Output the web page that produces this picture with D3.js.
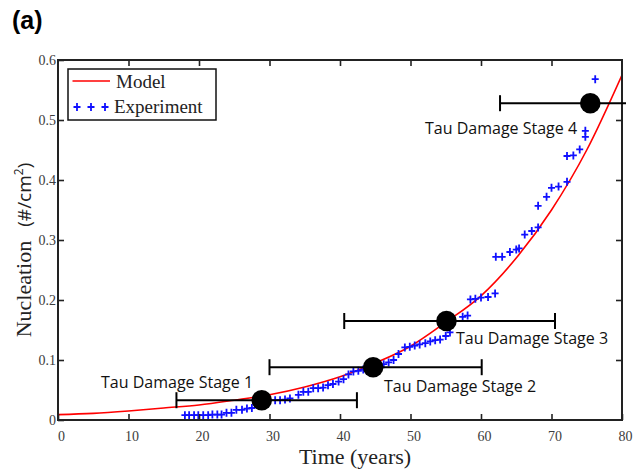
<!DOCTYPE html>
<html>
<head>
<meta charset="utf-8">
<script src="https://cdn.jsdelivr.net/npm/d3@7"></script>
<style>
  html, body { margin: 0; padding: 0; background: #fff; }
  svg { display: block; }
</style>
</head>
<body>
<svg id="chart" width="636" height="474"></svg>
<script>
// ---------------- data ----------------
const xTicks = [0, 10, 20, 30, 40, 50, 60, 70, 80];
const yTicks = [0, 0.1, 0.2, 0.3, 0.4, 0.5, 0.6];
const yTickLabels = ["0", "0.1", "0.2", "0.3", "0.4", "0.5", "0.6"];

// Model curve
const modelT = [0, 5, 10, 15, 20, 25, 30, 35, 40, 45, 50, 55, 60, 65, 70, 75, 80];
const modelV = [0.009, 0.011, 0.015, 0.020, 0.025, 0.033, 0.042, 0.055, 0.072, 0.095, 0.123, 0.163, 0.207, 0.270, 0.350, 0.450, 0.575];

// Experiment points
const expT = [18.0, 18.6, 19.3, 19.9, 20.6, 21.3, 21.9, 22.6, 23.2, 23.9, 24.6, 25.3, 26.1, 26.8, 27.5,
  28.2, 29.0, 30.8, 31.5, 32.2, 32.9, 34.1, 34.8, 35.5, 36.2, 36.9, 37.6, 38.3, 39.0, 39.8,
  40.5, 41.2, 41.9, 42.6, 43.3, 44.0, 45.5, 46.2, 46.9, 47.6, 48.3, 49.2, 49.9, 50.6, 51.3,
  52.1, 52.8, 53.5, 54.2, 55.0, 55.6, 57.4, 58.1, 58.5, 59.2, 60.0, 61.0, 62.0, 62.1, 63.0,
  64.1, 65.0, 65.4, 66.2, 67.2, 68.1, 68.1, 69.3, 70.0, 71.0, 72.2, 72.2, 73.1, 74.0, 74.8,
  74.8, 76.2];
const expV = [0.008, 0.008, 0.008, 0.008, 0.008, 0.008, 0.009, 0.009, 0.009, 0.012, 0.012, 0.017, 0.017, 0.019, 0.020,
  0.025, 0.028, 0.033, 0.033, 0.034, 0.036, 0.042, 0.047, 0.047, 0.053, 0.053, 0.054, 0.058, 0.060, 0.064,
  0.068, 0.076, 0.081, 0.082, 0.084, 0.087, 0.090, 0.093, 0.096, 0.100, 0.110, 0.121, 0.122, 0.124, 0.126,
  0.128, 0.131, 0.133, 0.134, 0.140, 0.146, 0.172, 0.174, 0.201, 0.202, 0.204, 0.205, 0.211, 0.272, 0.272,
  0.280, 0.284, 0.286, 0.309, 0.315, 0.321, 0.357, 0.372, 0.387, 0.389, 0.397, 0.440, 0.441, 0.451, 0.472,
  0.482, 0.568];

// Tau damage stages
const stageNames = ["Tau Damage Stage 1", "Tau Damage Stage 2", "Tau Damage Stage 3", "Tau Damage Stage 4"];
const stageT  = [28.9, 44.7, 55.1, 75.5];
const stageV  = [0.033, 0.088, 0.165, 0.528];
const stageLo = [16.8, 30.0, 40.6, 62.7];
const stageHi = [42.4, 60.1, 70.5, 80.6];

const legendLabels = ["Model", "Experiment"];

// ---------------- layout ----------------
const W = 636, H = 474;
const L = 58, R = 622, T = 60, B = 420;
const serif = "'Liberation Serif', 'Times New Roman', serif";
const sans = "'Open Sans', 'Noto Sans', sans-serif";

const svg = d3.select("#chart");
const x = d3.scaleLinear().domain([0, 80]).range([L, R]);
const y = d3.scaleLinear().domain([0, 0.6]).range([B, T]);

// title "(a)"
svg.append("text").attr("x", 12).attr("y", 29)
  .attr("font-family", "'Liberation Sans', Arial, sans-serif")
  .attr("font-weight", "bold").attr("font-size", 25).attr("fill", "#000").text("(a)");

// clip
svg.append("clipPath").attr("id", "plotclip").append("rect")
  .attr("x", L).attr("y", T - 20).attr("width", R - L).attr("height", B - T + 20);

// Model line
const modelData = modelT.map((t, i) => [t, modelV[i]]);
svg.append("path")
  .datum(modelData)
  .attr("clip-path", "url(#plotclip)")
  .attr("fill", "none").attr("stroke", "#ff0000").attr("stroke-width", 1.6)
  .attr("d", d3.line().x(d => x(d[0])).y(d => y(d[1])).curve(d3.curveMonotoneX));

// Experiment pluses
const plus = "M-3.5,0H3.5M0,-4V4";
svg.append("g").selectAll("path")
  .data(expT.map((t, i) => [t, expV[i]]))
  .join("path")
  .attr("transform", d => `translate(${x(d[0])},${y(d[1])})`)
  .attr("d", plus).attr("stroke", "#1010ff").attr("stroke-width", 1.8).attr("fill", "none");

// Axes
const fmtY = (d) => yTickLabels[yTicks.indexOf(d)];
const gB = svg.append("g").attr("transform", `translate(0,${B})`)
  .call(d3.axisBottom(x).tickValues(xTicks).tickSizeInner(-6).tickSizeOuter(0).tickPadding(11).tickFormat(d3.format("d")));
const gTop = svg.append("g").attr("transform", `translate(0,${T})`)
  .call(d3.axisTop(x).tickValues(xTicks.slice(1, -1)).tickSizeInner(-6).tickSizeOuter(0).tickFormat(""));
const gL = svg.append("g").attr("transform", `translate(${L},0)`)
  .call(d3.axisLeft(y).tickValues(yTicks).tickSizeInner(-6).tickSizeOuter(0).tickPadding(2).tickFormat(fmtY));
const gR = svg.append("g").attr("transform", `translate(${R},0)`)
  .call(d3.axisRight(y).tickValues(yTicks.slice(1, -1)).tickSizeInner(-6).tickSizeOuter(0).tickFormat(""));
[gB, gTop, gL, gR].forEach(g => {
  g.select(".domain").remove();
  g.selectAll(".tick line").attr("stroke", "#222").attr("stroke-width", 1.6);
  g.selectAll(".tick text").attr("font-family", serif).attr("font-size", 14).attr("fill", "#3c3c3c");
});
gB.selectAll(".tick text").attr("dx", 3);
gL.selectAll(".tick text").attr("dy", "0.3em");

// frame
svg.append("rect").attr("x", L).attr("y", T).attr("width", R - L).attr("height", B - T)
  .attr("fill", "none").attr("stroke", "#222").attr("stroke-width", 2);

// Stage error bars
const capH = 8;
const sg = svg.append("g");
stageT.forEach((t, i) => {
  const yy = y(stageV[i]);
  const x1 = x(stageLo[i]), x2 = x(stageHi[i]);
  sg.append("line").attr("x1", x1).attr("x2", Math.min(x2, R + 4)).attr("y1", yy).attr("y2", yy)
    .attr("stroke", "#000").attr("stroke-width", 2);
  [stageLo[i], stageHi[i]].forEach(v => {
    if (v <= 80) sg.append("line").attr("x1", x(v)).attr("x2", x(v)).attr("y1", yy - capH).attr("y2", yy + capH)
      .attr("stroke", "#000").attr("stroke-width", 2);
  });
  sg.append("circle").attr("cx", x(t)).attr("cy", yy).attr("r", 10.3).attr("fill", "#000");
});

// Stage labels (layout positions)
const stageLabelPos = [[101, 388], [384, 392], [456, 344], [425, 134]];
stageNames.forEach((s, i) => {
  svg.append("text").attr("x", stageLabelPos[i][0]).attr("y", stageLabelPos[i][1])
    .attr("font-family", sans).attr("font-size", 16).attr("fill", "#111").text(s);
});

// Legend
svg.append("rect").attr("x", 68).attr("y", 69).attr("width", 148).attr("height", 51)
  .attr("fill", "#fff").attr("stroke", "#111").attr("stroke-width", 1.5);
svg.append("line").attr("x1", 72.5).attr("x2", 110).attr("y1", 81).attr("y2", 81)
  .attr("stroke", "#ff0000").attr("stroke-width", 1.6);
[77, 91, 105].forEach(px => {
  svg.append("path").attr("transform", `translate(${px},107)`).attr("d", plus)
    .attr("stroke", "#1010ff").attr("stroke-width", 1.8).attr("fill", "none");
});
svg.append("text").attr("x", 116).attr("y", 88).attr("font-family", serif).attr("font-size", 19)
  .attr("fill", "#222").text(legendLabels[0]);
svg.append("text").attr("x", 114).attr("y", 113).attr("font-family", serif).attr("font-size", 19)
  .attr("fill", "#222").text(legendLabels[1]);

// Axis titles
svg.append("text").attr("x", 355).attr("y", 464).attr("text-anchor", "middle")
  .attr("font-family", serif).attr("font-size", 22).attr("fill", "#222").text("Time (years)");

const yt = svg.append("text").attr("transform", "translate(31,250) rotate(-90)")
  .attr("text-anchor", "middle").attr("fill", "#222");
yt.append("tspan").attr("font-family", serif).attr("font-size", 22).text("Nucleation");
yt.append("tspan").attr("font-family", sans).attr("font-size", 19).attr("dx", 14).text("(#/cm");
yt.append("tspan").attr("font-family", sans).attr("font-size", 12).attr("dy", -8).text("2");
yt.append("tspan").attr("font-family", sans).attr("font-size", 19).attr("dy", 8).text(")");
</script>
</body>
</html>
